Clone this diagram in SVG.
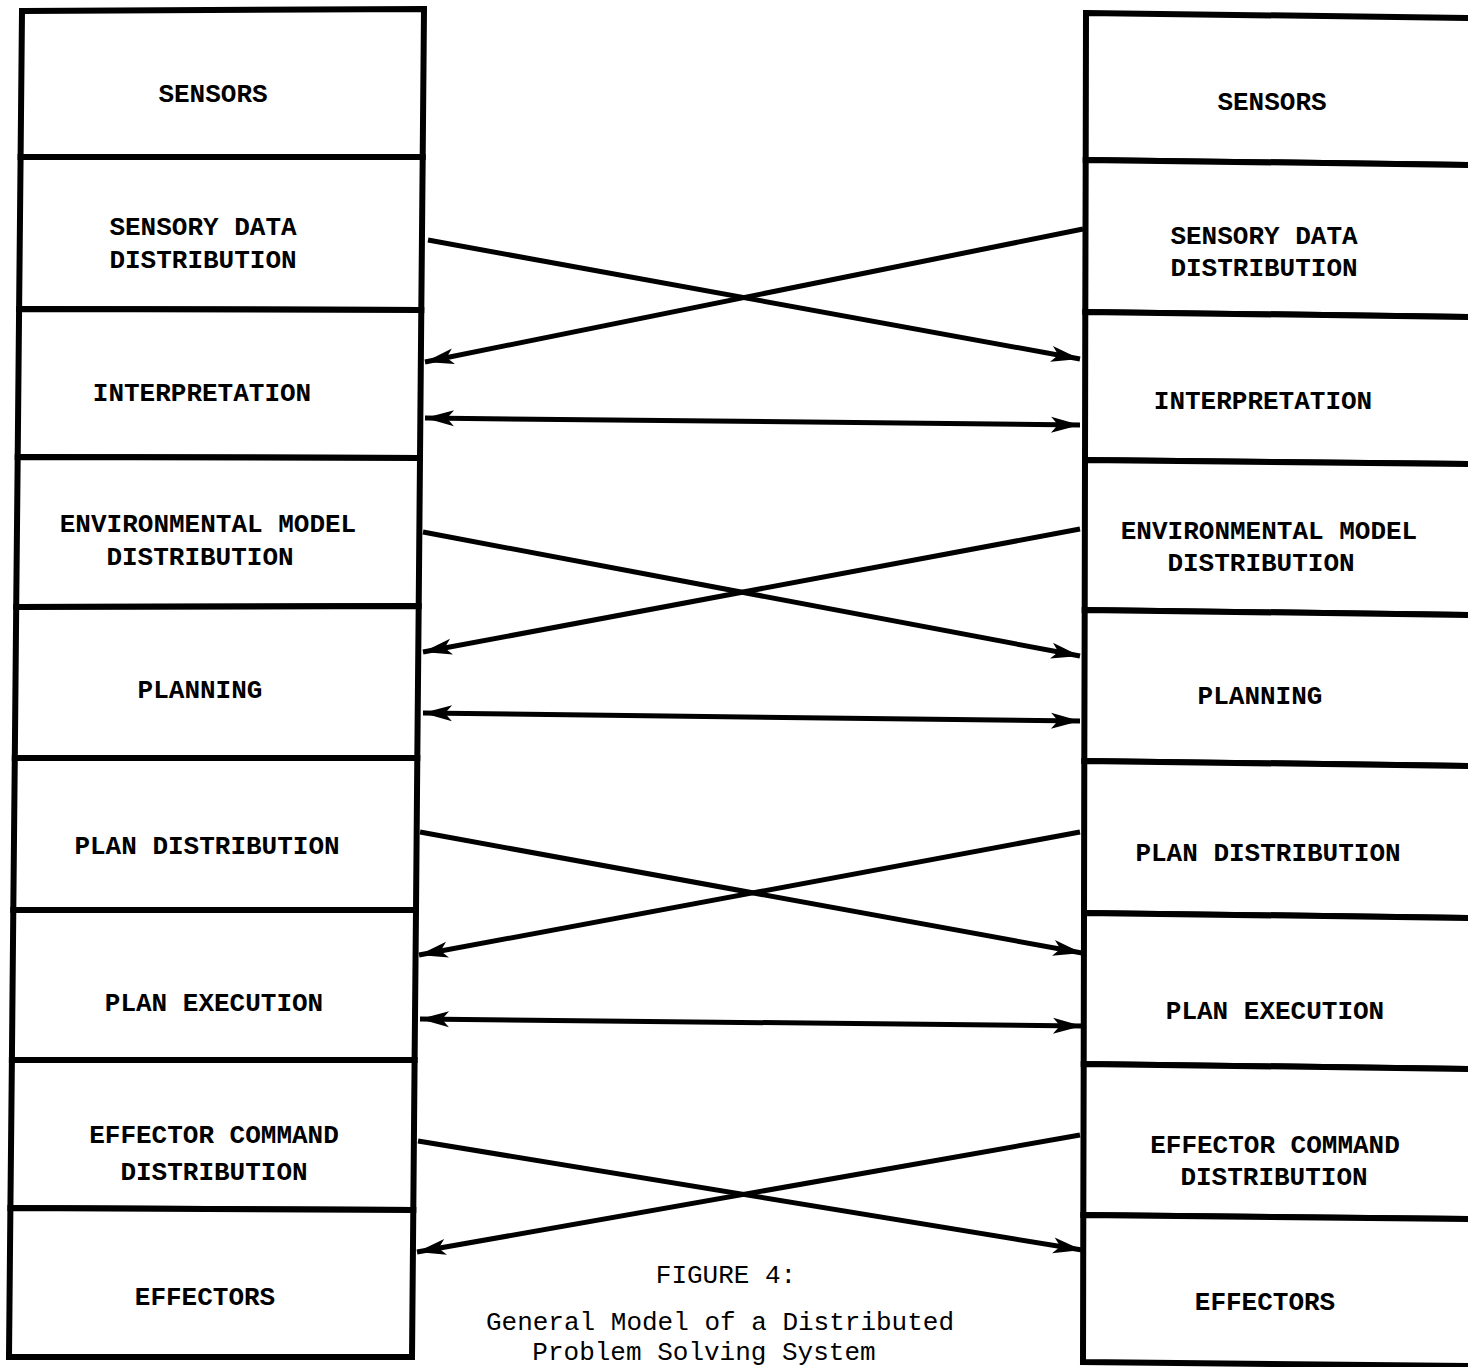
<svg xmlns="http://www.w3.org/2000/svg" width="1468" height="1367" viewBox="0 0 1468 1367">
<style>
.cell{fill:#fff;stroke:#000;stroke-width:6;stroke-linejoin:miter}
.lbl{font-family:"Liberation Mono","Courier New",monospace;font-weight:bold;font-size:26px;fill:#000;text-anchor:middle}
.cap{font-family:"Liberation Mono","Courier New",monospace;font-size:26px;fill:#000;text-anchor:middle}
.ln{stroke:#000;stroke-width:5;fill:none}
.one{marker-end:url(#ah)}
.two{marker-end:url(#ah);marker-start:url(#ah)}
</style>
<defs>
<marker id="ah" markerUnits="userSpaceOnUse" viewBox="-32 -10 34 20" refX="0" refY="0" markerWidth="34" markerHeight="20" orient="auto-start-reverse">
<path d="M0,0 L-29,-8 L-22,0 L-29,8 Z" fill="#000"/>
</marker>
</defs>
<rect width="1468" height="1367" fill="#fff"/>
<g id="left-column">
<g id="L-sensors"><polygon class="cell" points="22,11 424,9 422.7,157 20.6,157"/><text class="lbl" x="213" y="102">SENSORS</text></g>
<g id="L-sensory-data-distribution"><polygon class="cell" points="20.6,157 422.7,157 421.3,310 19.1,309"/><text class="lbl" x="203" y="235">SENSORY DATA</text><text class="lbl" x="203" y="268">DISTRIBUTION</text></g>
<g id="L-interpretation"><polygon class="cell" points="19.1,309 421.3,310 420,458 17.7,457"/><text class="lbl" x="202" y="401">INTERPRETATION</text></g>
<g id="L-environmental-model-distribution"><polygon class="cell" points="17.7,457 420,458 418.7,606 16.2,607"/><text class="lbl" x="208" y="532">ENVIRONMENTAL MODEL</text><text class="lbl" x="200" y="565">DISTRIBUTION</text></g>
<g id="L-planning"><polygon class="cell" points="16.2,607 418.7,606 417.3,758 14.8,758"/><text class="lbl" x="200" y="698">PLANNING</text></g>
<g id="L-plan-distribution"><polygon class="cell" points="14.8,758 417.3,758 416,910 13.3,910"/><text class="lbl" x="207" y="854">PLAN DISTRIBUTION</text></g>
<g id="L-plan-execution"><polygon class="cell" points="13.3,910 416,910 414.6,1060 11.9,1060"/><text class="lbl" x="214" y="1011">PLAN EXECUTION</text></g>
<g id="L-effector-command-distribution"><polygon class="cell" points="11.9,1060 414.6,1060 413.3,1210 10.4,1208"/><text class="lbl" x="214" y="1143">EFFECTOR COMMAND</text><text class="lbl" x="214" y="1180">DISTRIBUTION</text></g>
<g id="L-effectors"><polygon class="cell" points="10.4,1208 413.3,1210 412,1357 9,1357"/><text class="lbl" x="205" y="1305">EFFECTORS</text></g>
</g>
<g id="right-column">
<g id="R-sensors"><polygon class="cell" points="1086,13 1476,18 1476,165 1085.7,160"/><text class="lbl" x="1272" y="110">SENSORS</text></g>
<g id="R-sensory-data-distribution"><polygon class="cell" points="1085.7,160 1476,165 1476,317 1085.3,312"/><text class="lbl" x="1264" y="244">SENSORY DATA</text><text class="lbl" x="1264" y="276">DISTRIBUTION</text></g>
<g id="R-interpretation"><polygon class="cell" points="1085.3,312 1476,317 1476,464 1085,460"/><text class="lbl" x="1263" y="409">INTERPRETATION</text></g>
<g id="R-environmental-model-distribution"><polygon class="cell" points="1085,460 1476,464 1476,615 1084.7,610"/><text class="lbl" x="1269" y="539">ENVIRONMENTAL MODEL</text><text class="lbl" x="1261" y="571">DISTRIBUTION</text></g>
<g id="R-planning"><polygon class="cell" points="1084.7,610 1476,615 1476,766 1084.3,761"/><text class="lbl" x="1260" y="704">PLANNING</text></g>
<g id="R-plan-distribution"><polygon class="cell" points="1084.3,761 1476,766 1476,918 1084,913"/><text class="lbl" x="1268" y="861">PLAN DISTRIBUTION</text></g>
<g id="R-plan-execution"><polygon class="cell" points="1084,913 1476,918 1476,1069 1083.7,1064"/><text class="lbl" x="1275" y="1019">PLAN EXECUTION</text></g>
<g id="R-effector-command-distribution"><polygon class="cell" points="1083.7,1064 1476,1069 1476,1219 1083.3,1215"/><text class="lbl" x="1275" y="1153">EFFECTOR COMMAND</text><text class="lbl" x="1274" y="1185">DISTRIBUTION</text></g>
<g id="R-effectors"><polygon class="cell" points="1083.3,1215 1476,1219 1476,1366 1083,1362"/><text class="lbl" x="1265" y="1310">EFFECTORS</text></g>
</g>
<g id="connectors">
<line class="ln one" x1="428" y1="240" x2="1080" y2="359"/>
<line class="ln one" x1="1083" y1="229" x2="425" y2="362"/>
<line class="ln two" x1="425" y1="418" x2="1080" y2="425"/>
<line class="ln one" x1="423" y1="532" x2="1080" y2="656"/>
<line class="ln one" x1="1080" y1="529" x2="423" y2="652"/>
<line class="ln two" x1="423" y1="713" x2="1080" y2="721"/>
<line class="ln one" x1="420" y1="832" x2="1082" y2="953"/>
<line class="ln one" x1="1080" y1="832" x2="419" y2="955"/>
<line class="ln two" x1="420" y1="1019" x2="1082" y2="1026"/>
<line class="ln one" x1="418" y1="1141" x2="1082" y2="1250"/>
<line class="ln one" x1="1080" y1="1135" x2="417" y2="1252"/>
</g>
<g id="caption">
<text class="cap" x="726" y="1283">FIGURE 4:</text>
<text class="cap" x="720" y="1330">General Model of a Distributed</text>
<text class="cap" x="704" y="1360">Problem Solving System</text>
</g>
</svg>
